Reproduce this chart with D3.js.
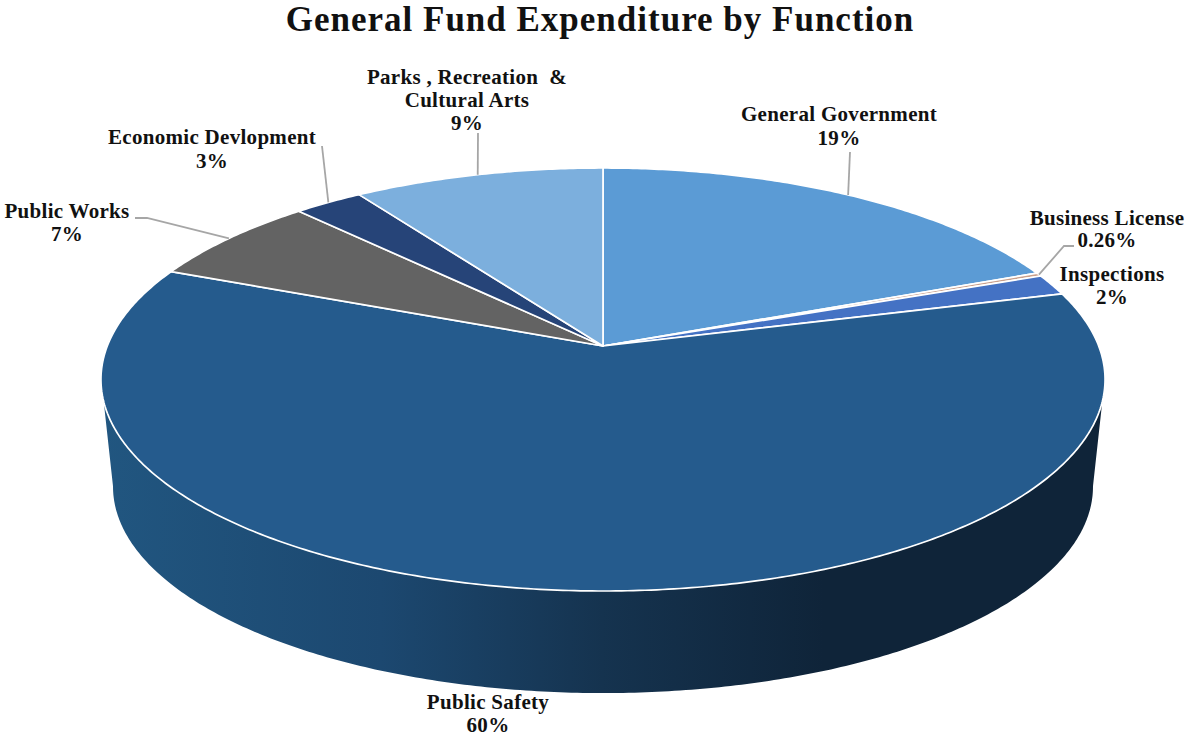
<!DOCTYPE html>
<html>
<head>
<meta charset="utf-8">
<script src="https://cdnjs.cloudflare.com/ajax/libs/d3/7.8.5/d3.min.js"></script>
<style>
  html, body { margin: 0; padding: 0; background: #fff; }
  text { font-family: "Liberation Serif", serif; font-weight: bold; fill: #111; text-anchor: middle; white-space: pre; }
</style>
</head>
<body>
<script>
var categories = ["General Government", "Business License", "Inspections", "Public Safety", "Public Works", "Economic Devlopment", "Parks , Recreation  & Cultural Arts"];
var values = [18.9, 0.26, 1.6, 60.5, 6.75, 2.6, 9.4];
var valueLabels = ["19%", "0.26%", "2%", "60%", "7%", "3%", "9%"];
var colors = ["#5b9bd5", "#c9a08c", "#4472c4", "#255b8d", "#636363", "#264478", "#7cafdd"];

var w = 1185;
var h = 736;

// perspective of the pie top and of the bottom rim
var top3d = {cx: 603, cy: 346, a: 495.7, b: 206.2, k: 0.1584};
var bottom3d = {cx: 603, cy: 454, a: 483.8, b: 201.2, k: 0.1584};

// label layout: [text lines], centre x, first baseline
var labelLayout = [
  {lines: ["General Government", "19%"], x: 839, y: 121, lh: 24},
  {lines: ["Business License", "0.26%"], x: 1107, y: 225, lh: 22},
  {lines: ["Inspections", "2%"], x: 1112, y: 281, lh: 23},
  {lines: ["Public Safety", "60%"], x: 488, y: 709, lh: 23},
  {lines: ["Public Works", "7%"], x: 67, y: 218, lh: 23},
  {lines: ["Economic Devlopment", "3%"], x: 212, y: 144, lh: 24},
  {lines: ["Parks , Recreation  &", "Cultural Arts", "9%"], x: 467, y: 84, lh: 23}
];

// leader lines: elbow points, the rim end comes from the slice itself
var leaderElbows = [
  [[850, 152]],
  [[1074, 246], [1064, 246]],
  null,
  null,
  [[135, 218], [147, 218]],
  [[322, 146]],
  [[478, 133]]
];

function project(p, angle) {
  var u = Math.sin(angle), v = -Math.cos(angle), s = 1 - p.k * v;
  return [p.cx + p.a * u / s, p.cy + p.b * v / s];
}

function arcPoints(p, a0, a1) {
  var n = Math.max(2, Math.ceil(Math.abs(a1 - a0) / 0.01));
  return d3.range(n + 1).map(function(i) {
    return project(p, a0 + (a1 - a0) * i / n);
  });
}

var svg = d3.select("body").append("svg")
  .attr("width", w)
  .attr("height", h)
  .style("display", "block");

// wall shading, runs left to right
var grad = svg.append("defs").append("linearGradient")
  .attr("id", "wall")
  .attr("gradientUnits", "userSpaceOnUse")
  .attr("x1", 100).attr("x2", 1105).attr("y1", 0).attr("y2", 0);
grad.selectAll("stop")
  .data([[0, "#215680"], [0.28, "#1c4870"], [0.5, "#15334f"], [0.72, "#0f2439"], [1, "#0f2439"]])
  .enter().append("stop")
  .attr("offset", function(d) { return d[0]; })
  .attr("stop-color", function(d) { return d[1]; });

var line = d3.line();
var rad = Math.PI / 180;

// side wall
var wallPts = arcPoints(top3d, 105 * rad, 255 * rad)
  .concat(arcPoints(bottom3d, 261 * rad, 99 * rad));
svg.append("path")
  .attr("d", line(wallPts) + "Z")
  .attr("fill", "url(#wall)");

// top of the pie
var pie = d3.pie().sort(null).value(function(d) { return d; });
var slices = pie(values);

svg.selectAll("path.slice")
  .data(slices)
  .enter().append("path")
  .attr("class", "slice")
  .attr("d", function(d) {
    return line([[top3d.cx, top3d.cy]].concat(arcPoints(top3d, d.startAngle, d.endAngle))) + "Z";
  })
  .attr("fill", function(d, i) { return colors[i]; })
  .attr("stroke", "#fff")
  .attr("stroke-width", 1.7)
  .attr("stroke-linejoin", "round");

// leader lines
slices.forEach(function(d, i) {
  if (!leaderElbows[i]) return;
  var rim = project(top3d, (d.startAngle + d.endAngle) / 2);
  svg.append("path")
    .attr("d", line(leaderElbows[i].concat([rim])))
    .attr("fill", "none")
    .attr("stroke", "#a6a6a6")
    .attr("stroke-width", 1.8);
});

// labels
labelLayout.forEach(function(l) {
  l.lines.forEach(function(t, j) {
    svg.append("text")
      .attr("x", l.x)
      .attr("y", l.y + j * l.lh)
      .attr("font-size", 21)
      .style("letter-spacing", "0.3px")
      .text(t);
  });
});

svg.append("text")
  .attr("x", 600)
  .attr("y", 30.5)
  .attr("font-size", 35)
  .style("letter-spacing", "1px")
  .text("General Fund Expenditure by Function");
</script>
</body>
</html>
